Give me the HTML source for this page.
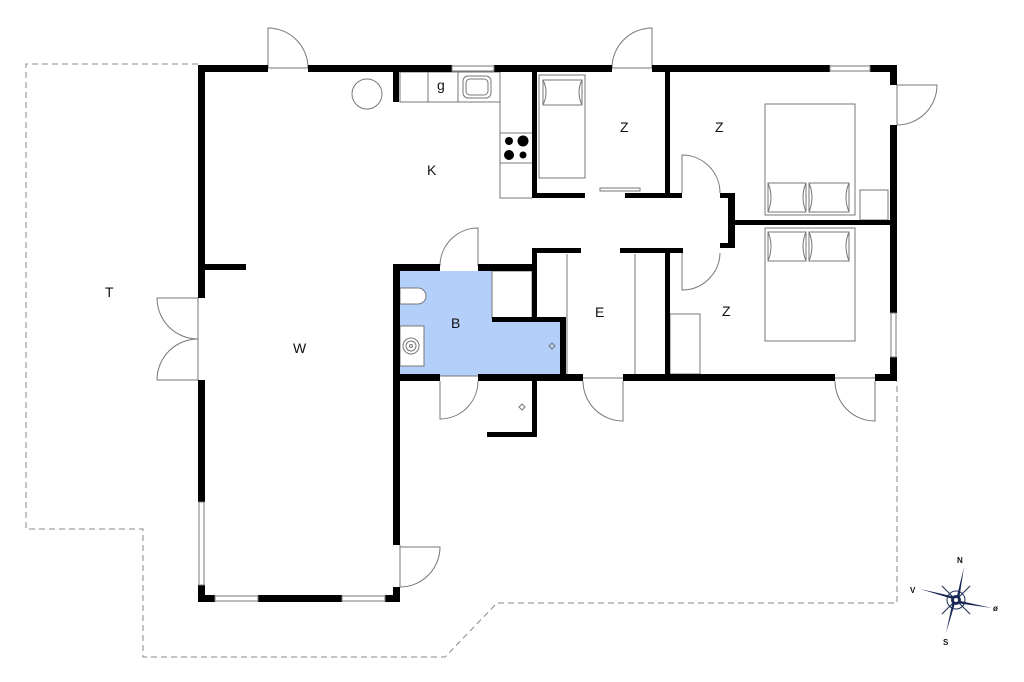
<!DOCTYPE html>
<html><head><meta charset="utf-8"><style>
html,body{margin:0;padding:0;background:#fff;}
svg{display:block;}
text{font-family:"Liberation Sans",sans-serif;font-size:14px;fill:#111;}
</style></head><body>
<svg width="1024" height="682" viewBox="0 0 1024 682" xmlns="http://www.w3.org/2000/svg">
<g fill="none" stroke="#888" stroke-width="1" stroke-dasharray="6,4">
<path d="M198,64 H26 V529 H143 V657 H445 L497,603 H897 V381"/>
</g>
<path d="M400,271 H492 V320 H562 V376 H400 Z" fill="#b4d0fa"/>
<g fill="none" stroke="#777" stroke-width="1">
<rect x="400" y="72" width="100" height="30" fill="#fff"/>
<line x1="428" y1="72" x2="428" y2="102"/><line x1="458" y1="72" x2="458" y2="102"/>
<rect x="463" y="76" width="28" height="22" rx="5"/><rect x="466" y="79" width="22" height="16" rx="4"/>
<path d="M500,102 V198 H532"/>
<line x1="500" y1="133" x2="532" y2="133"/><line x1="500" y1="163" x2="532" y2="163"/>
<circle cx="367" cy="94" r="15"/>
<rect x="539" y="75" width="46" height="103"/>
<rect x="543" y="80" width="39" height="25"/>
<path d="M543,80 q6,12 0,25 M582,80 q-6,12 0,25"/>
<rect x="600" y="188" width="40" height="3"/>
<rect x="765" y="104" width="90" height="111"/>
<rect x="768" y="183" width="38" height="29"/><rect x="809" y="183" width="40" height="29"/>
<path d="M768,183 q6,14 0,29 M806,183 q-6,14 0,29 M809,183 q6,14 0,29 M849,183 q-6,14 0,29"/>
<rect x="765" y="228" width="90" height="113"/>
<rect x="768" y="232" width="38" height="29"/><rect x="809" y="232" width="40" height="29"/>
<path d="M768,232 q6,14 0,29 M806,232 q-6,14 0,29 M809,232 q6,14 0,29 M849,232 q-6,14 0,29"/>
<rect x="860" y="190" width="28" height="30"/>
<rect x="670" y="314" width="30" height="60"/>
<line x1="567" y1="254" x2="567" y2="374"/><line x1="635" y1="254" x2="635" y2="374"/>
<rect x="492" y="271" width="40" height="47" fill="#fff"/>
<rect x="400" y="326" width="24" height="40" fill="#fff"/>
<circle cx="411" cy="346" r="8"/><circle cx="411" cy="346" r="5"/><circle cx="411" cy="346" r="1.5"/>
<path d="M400,288 H418 a8,8 0 0 1 0,16 H400 Z" fill="#fff"/>
<path d="M552,343 l3,3 -3,3 -3,-3 Z"/><path d="M522,404 l3,3 -3,3 -3,-3 Z"/>
<line x1="268" y1="68" x2="308" y2="68"/><line x1="612" y1="68" x2="652" y2="68"/>
<line x1="198" y1="298" x2="198" y2="380"/>
<line x1="400" y1="545" x2="400" y2="587"/>
<line x1="897" y1="85" x2="897" y2="125"/>
<line x1="440" y1="376" x2="478" y2="376"/><line x1="583" y1="378" x2="623" y2="378"/>
<line x1="835" y1="378" x2="875" y2="378"/>
<path d="M268,68 V28 A40,40 0 0 1 308,68"/>
<path d="M652,68 V28 A40,40 0 0 0 612,68"/>
<path d="M897,85 H937 A40,40 0 0 1 897,125"/>
<path d="M198,298 H157 A41,41 0 0 0 198,339"/>
<path d="M198,380 H157 A41,41 0 0 1 198,339"/>
<path d="M478,266 V228 A38,38 0 0 0 440,266"/>
<path d="M440,381 V419 A38,38 0 0 0 478,381"/>
<path d="M623,381 V421 A40,40 0 0 1 583,381"/>
<path d="M875,381 V421 A40,40 0 0 1 835,381"/>
<path d="M682,193 V155 A38,38 0 0 1 720,193"/>
<path d="M682,253 V290 A38,38 0 0 0 720,253"/>
<path d="M400,547 H440 A40,40 0 0 1 400,587"/>
</g>
<g fill="#000">
<rect x="198" y="65" width="70" height="7"/>
<rect x="308" y="65" width="144" height="7"/>
<rect x="494" y="65" width="118" height="7"/>
<rect x="652" y="65" width="178" height="7"/>
<rect x="870" y="65" width="27" height="7"/>
<rect x="890" y="65" width="7" height="20"/>
<rect x="890" y="125" width="7" height="188"/>
<rect x="890" y="357" width="7" height="24"/>
<rect x="198" y="65" width="7" height="233"/>
<rect x="198" y="380" width="7" height="122"/>
<rect x="198" y="585" width="7" height="17"/>
<rect x="198" y="595" width="17" height="7"/>
<rect x="258" y="595" width="84" height="7"/>
<rect x="385" y="595" width="15" height="7"/>
<rect x="393" y="587" width="7" height="15"/>
<rect x="393" y="264" width="7" height="281"/>
<rect x="205" y="264" width="41" height="6"/>
<rect x="393" y="72" width="6" height="30"/>
<rect x="393" y="264" width="47" height="7"/>
<rect x="478" y="264" width="59" height="7"/>
<rect x="532" y="72" width="5" height="126"/>
<rect x="532" y="193" width="53" height="5"/>
<rect x="625" y="193" width="57" height="5"/>
<rect x="665" y="72" width="5" height="126"/>
<rect x="720" y="193" width="15" height="5"/>
<rect x="728" y="193" width="7" height="55"/>
<rect x="735" y="220" width="155" height="5"/>
<rect x="620" y="248" width="63" height="5"/>
<rect x="720" y="243" width="15" height="5"/>
<rect x="532" y="248" width="49" height="5"/>
<rect x="532" y="248" width="5" height="72"/>
<rect x="492" y="317" width="74" height="5"/>
<rect x="560" y="317" width="6" height="64"/>
<rect x="665" y="248" width="5" height="130"/>
<rect x="393" y="374" width="47" height="7"/>
<rect x="478" y="374" width="105" height="7"/>
<rect x="623" y="374" width="212" height="7"/>
<rect x="875" y="374" width="22" height="7"/>
<rect x="532" y="378" width="5" height="59"/>
<rect x="487" y="432" width="50" height="5"/>
</g>
<g fill="#fff" stroke="#777" stroke-width="1">
<rect x="452" y="66" width="42" height="5"/>
<rect x="830" y="66" width="40" height="5"/>
<rect x="891" y="313" width="5" height="44"/>
<rect x="199" y="502" width="5" height="83"/>
<rect x="215" y="596" width="43" height="5"/>
<rect x="342" y="596" width="43" height="5"/>
</g>
<g fill="#000"><circle cx="509" cy="141" r="4"/><circle cx="523" cy="141" r="5.5"/><circle cx="509" cy="155" r="5"/><circle cx="523" cy="155" r="3.5"/></g>
<text x="105" y="297">T</text>
<text x="293" y="353">W</text>
<text x="427" y="175">K</text>
<text x="620" y="132">Z</text>
<text x="715" y="132">Z</text>
<text x="451" y="328">B</text>
<text x="595" y="317">E</text>
<text x="722" y="316">Z</text>
<text x="437" y="90">g</text>
<g transform="translate(956,600)">
<g stroke="#1a2a55" stroke-width="1" fill="none">
<line x1="-14" y1="-14" x2="14" y2="14"/><line x1="14" y1="-14" x2="-14" y2="14"/>
<circle r="9"/>
</g>
<path d="M0,0 L8,-33 L3,0 Z" fill="#1a2a55"/><path d="M0,0 L-10,33 L-3,0 Z" fill="#1a2a55"/>
<path d="M0,0 L-36,-11 L0,-3 Z" fill="#1a2a55"/><path d="M0,0 L36,8 L0,3 Z" fill="#1a2a55"/>
<circle r="5" fill="#1a2a55"/><circle r="2" fill="#fff"/>
<text x="1" y="-37" style="font-size:8px;font-weight:bold">N</text>
<text x="-46" y="-7" style="font-size:8px;font-weight:bold">V</text>
<text x="37" y="11" style="font-size:8px;font-weight:bold">ø</text>
<text x="-13" y="45" style="font-size:8px;font-weight:bold">S</text>
</g>
</svg>
</body></html>
